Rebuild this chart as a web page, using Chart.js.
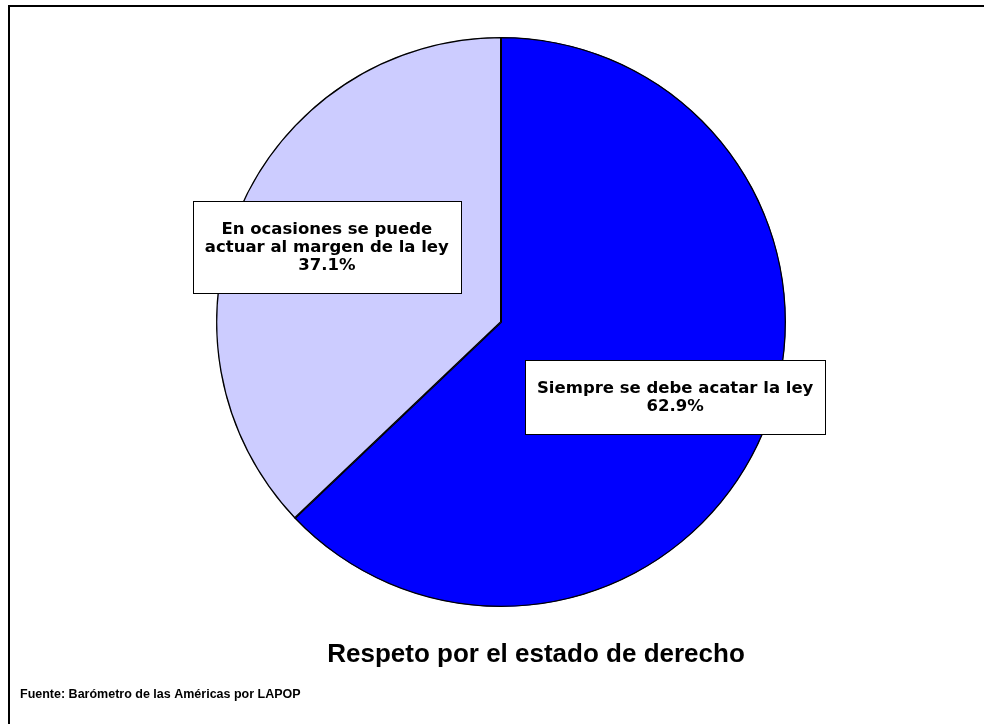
<!DOCTYPE html>
<html>
<head>
<meta charset="utf-8">
<script src="https://cdn.jsdelivr.net/npm/chart.js@4.4.1/dist/chart.umd.min.js"></script>
<style>
  html, body { margin: 0; padding: 0; background: #fff; }
  #wrap { width: 984px; height: 724px; position: relative; }
</style>
</head>
<body>
<div id="wrap"><canvas id="myChart" width="984" height="724"></canvas></div>
<script>
// datos
let labels = ['Siempre se debe acatar la ley', 'En ocasiones se puede actuar al margen de la ley'];
let labelLines = [['Siempre se debe acatar la ley'], ['En ocasiones se puede', 'actuar al margen de la ley']];
let values = [62.9, 37.1];
let colors = ['#0000FF', '#CCCCFF'];
let titleText = 'Respeto por el estado de derecho';
let sourceText = 'Fuente: Barómetro de las Américas por LAPOP';

// cajas de etiquetas + marco + titulo
let boxPlugin = {
    id: 'boxPlugin',
    afterDraw: function(chart) {
        let ctx = chart.ctx;
        let meta = chart.getDatasetMeta(0);
        ctx.save();
        ctx.font = 'bold 16.5px "DejaVu Sans", sans-serif';
        ctx.textAlign = 'center';
        ctx.textBaseline = 'middle';
        meta.data.forEach(function(arc, i) {
            let p = arc.getProps(['x', 'y', 'startAngle', 'endAngle', 'outerRadius'], true);
            let mid = (p.startAngle + p.endAngle) / 2;
            let cx = p.x + Math.cos(mid) * p.outerRadius * 0.665;
            let cy = p.y + Math.sin(mid) * p.outerRadius * 0.665;
            let lines = labelLines[i].concat([values[i].toFixed(1) + '%']);
            let w = 0;
            lines.forEach(function(l) { w = Math.max(w, ctx.measureText(l).width); });
            let bw = Math.round(w + 24), bh = lines.length * 18 + 38;
            let bx = Math.round(cx - bw / 2) + 0.5, by = Math.round(cy - bh / 2) + 0.5;
            ctx.fillStyle = '#fff';
            ctx.fillRect(bx, by, bw, bh);
            ctx.strokeStyle = '#000';
            ctx.lineWidth = 1;
            ctx.strokeRect(bx, by, bw, bh);
            ctx.fillStyle = '#000';
            lines.forEach(function(l, k) {
                ctx.fillText(l, cx, by + 19 + 9 + k * 18);
            });
        });
        // marco
        ctx.strokeStyle = '#000';
        ctx.lineWidth = 2;
        ctx.beginPath();
        ctx.moveTo(984, 6);
        ctx.lineTo(9, 6);
        ctx.lineTo(9, 724);
        ctx.stroke();
        // titulo y fuente
        ctx.fillStyle = '#000';
        ctx.textBaseline = 'middle';
        ctx.font = 'bold 26px "Liberation Sans", sans-serif';
        ctx.textAlign = 'center';
        ctx.fillText(titleText, 536, 655);
        ctx.font = 'bold 12.5px "Liberation Sans", sans-serif';
        ctx.textAlign = 'left';
        ctx.fillText(sourceText, 20, 695);
        ctx.restore();
    }
};

let data = {
    labels: labels,
    datasets: [{
        data: values,
        backgroundColor: colors,
        borderColor: '#000',
        borderWidth: 1,
        borderAlign: 'inner'
    }]
};

let config = {
    type: 'pie',
    data: data,
    options: {
        responsive: false,
        animation: false,
        layout: { padding: { top: 37, bottom: 117, left: 216, right: 198 } },
        plugins: {
            legend: { display: false },
            tooltip: { enabled: false }
        }
    },
    plugins: [boxPlugin]
};

let myChart = new Chart(document.getElementById('myChart'), config);
</script>
</body>
</html>
